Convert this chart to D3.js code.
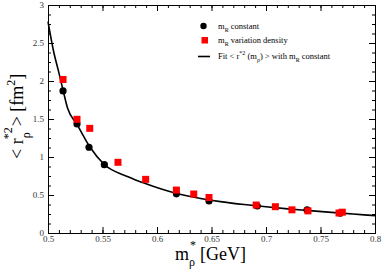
<!DOCTYPE html>
<html>
<head>
<meta charset="utf-8">
<script src="https://cdn.jsdelivr.net/npm/d3@7"></script>
<style>
body { margin: 0; background: #fff; }
text { font-family: "Liberation Serif", "DejaVu Serif", serif; }
.axis path { stroke: #000; }
.axis line { stroke: #000; }
</style>
</head>
<body>
<svg id="chart" width="382" height="277"></svg>
<script>
// m_R constant (black circles)
var massConst = [0.5138, 0.5266, 0.5376, 0.5517, 0.6178, 0.6477, 0.692, 0.7377, 0.768];
var rConst = [1.87, 1.434, 1.128, 0.899, 0.515, 0.421, 0.355, 0.303, 0.262];

// m_R variation density (red squares)
var massVar = [0.5138, 0.5266, 0.5383, 0.5642, 0.5896, 0.6178, 0.6337, 0.6477, 0.691, 0.7086, 0.7238, 0.7385, 0.767, 0.770];
var rVar = [2.02, 1.496, 1.377, 0.93, 0.706, 0.565, 0.513, 0.467, 0.368, 0.346, 0.305, 0.291, 0.263, 0.274];

// fit curve
var fitMass = [0.5, 0.5052, 0.5098, 0.5138, 0.518, 0.5266, 0.5383, 0.5514, 0.5734, 0.5887, 0.604, 0.618, 0.64, 0.66, 0.68, 0.7, 0.72, 0.74, 0.76, 0.78, 0.8];
var fitR = [2.78, 2.385, 2.12, 1.88, 1.64, 1.43, 1.135, 0.904, 0.741, 0.654, 0.578, 0.52, 0.455, 0.41, 0.375, 0.345, 0.318, 0.295, 0.272, 0.25, 0.228];

var xTicks = [0.5, 0.55, 0.6, 0.65, 0.7, 0.75, 0.8];
var yTicks = [0, 0.5, 1, 1.5, 2, 2.5, 3];

var svg = d3.select("#chart"),
    margin = {top: 5, right: 7, bottom: 44, left: 48},
    width = +svg.attr("width") - margin.left - margin.right,
    height = +svg.attr("height") - margin.top - margin.bottom;

var x = d3.scaleLinear().domain([0.5, 0.8]).range([0, width]);
var y = d3.scaleLinear().domain([0, 3]).range([height, 0]);

var g = svg.append("g")
    .attr("transform", "translate(" + margin.left + "," + margin.top + ")");

var xMinor = d3.range(50, 81).map(function(d) { return d / 100; });
var yMinor = d3.range(0, 25).map(function(d) { return d * 0.125; });

function fmt(d) { return String(+d.toFixed(2)); }

// minor ticks on all sides
g.append("g").attr("class", "axis").attr("transform", "translate(0," + height + ")")
    .call(d3.axisBottom(x).tickValues(xMinor).tickSize(-3).tickFormat(""));
g.append("g").attr("class", "axis")
    .call(d3.axisTop(x).tickValues(xMinor).tickSize(-3).tickFormat(""));
g.append("g").attr("class", "axis")
    .call(d3.axisLeft(y).tickValues(yMinor).tickSize(-3).tickFormat(""));
g.append("g").attr("class", "axis").attr("transform", "translate(" + width + ",0)")
    .call(d3.axisRight(y).tickValues(yMinor).tickSize(-3).tickFormat(""));

// major ticks
var xAxis = g.append("g").attr("class", "axis").attr("transform", "translate(0," + height + ")")
    .call(d3.axisBottom(x).tickValues(xTicks).tickSize(-6).tickPadding(3).tickFormat(fmt));
g.append("g").attr("class", "axis")
    .call(d3.axisTop(x).tickValues(xTicks).tickSize(-6).tickFormat(""));
var yAxis = g.append("g").attr("class", "axis")
    .call(d3.axisLeft(y).tickValues(yTicks).tickSize(-6).tickPadding(4).tickFormat(fmt));
g.append("g").attr("class", "axis").attr("transform", "translate(" + width + ",0)")
    .call(d3.axisRight(y).tickValues(yTicks).tickSize(-6).tickFormat(""));

xAxis.selectAll("text").attr("font-family", "Liberation Serif").attr("font-size", 9).attr("fill", "#333");
yAxis.selectAll("text").attr("font-family", "Liberation Serif").attr("font-size", 9).attr("fill", "#333");

// fit line
var line = d3.line()
    .x(function(d) { return x(d[0]); })
    .y(function(d) { return y(d[1]); })
    .curve(d3.curveMonotoneX);

g.append("path")
    .datum(d3.zip(fitMass, fitR))
    .attr("fill", "none")
    .attr("stroke", "#000")
    .attr("stroke-width", 1.6)
    .attr("d", line);

g.selectAll(".dot")
    .data(d3.zip(massConst, rConst))
    .enter().append("circle")
    .attr("cx", function(d) { return x(d[0]); })
    .attr("cy", function(d) { return y(d[1]); })
    .attr("r", 3.6)
    .attr("fill", "#000");

g.selectAll(".sq")
    .data(d3.zip(massVar, rVar))
    .enter().append("rect")
    .attr("x", function(d) { return x(d[0]) - 3.5; })
    .attr("y", function(d) { return y(d[1]) - 3.5; })
    .attr("width", 7)
    .attr("height", 7)
    .attr("fill", "#ff0000");

// legend
var leg = svg.append("g").attr("font-size", 8.5).attr("fill", "#000");
leg.append("circle").attr("cx", 203.5).attr("cy", 26).attr("r", 3.2).attr("fill", "#000");
var t1 = leg.append("text").attr("x", 218).attr("y", 29);
t1.append("tspan").text("m");
t1.append("tspan").attr("font-size", 6).attr("dy", 2.5).text("R");
t1.append("tspan").attr("dy", -2.5).text(" constant");

leg.append("rect").attr("x", 201.5).attr("y", 37).attr("width", 6.5).attr("height", 6.5).attr("fill", "#ff0000");
var t2 = leg.append("text").attr("x", 218).attr("y", 43);
t2.append("tspan").text("m");
t2.append("tspan").attr("font-size", 6).attr("dy", 2.5).text("R");
t2.append("tspan").attr("dy", -2.5).text("  variation density");

leg.append("line").attr("x1", 198).attr("x2", 210).attr("y1", 56.5).attr("y2", 56.5)
    .attr("stroke", "#000").attr("stroke-width", 1.6);
var t3 = leg.append("text").attr("x", 218).attr("y", 59);
t3.append("tspan").text("Fit < r");
t3.append("tspan").attr("font-size", 6).attr("dy", -4).text("*2");
t3.append("tspan").attr("dy", 4).text(" (m");
t3.append("tspan").attr("font-size", 6).attr("dy", 2.5).text("ρ");
t3.append("tspan").attr("dy", -2.5).text(") > with m");
t3.append("tspan").attr("font-size", 6).attr("dy", 2.5).text("R");
t3.append("tspan").attr("dy", -2.5).text(" constant");

// x label (star as its own text so it sits just below the tick labels)
var xl = svg.append("text").attr("x", 175).attr("y", 260).attr("font-size", 18);
xl.append("tspan").text("m");
xl.append("tspan").attr("font-size", 12).attr("dy", 6).text("ρ");
xl.append("tspan").attr("dx", 5).attr("dy", -6).text("[GeV]");
svg.append("text").attr("x", 190).attr("y", 249).attr("font-size", 12).text("*");

// y label
var yl = svg.append("text")
    .attr("transform", "translate(23,159) rotate(-90)")
    .attr("font-size", 18);
yl.append("tspan").text("< r");
yl.append("tspan").attr("font-size", 12).attr("dy", 7).text("ρ");
yl.append("tspan").attr("font-size", 12).attr("dx", -7).attr("dy", -18).text("*2");
yl.append("tspan").attr("dx", 1).attr("dy", 11).text("> [fm");
yl.append("tspan").attr("font-size", 12).attr("dy", -8).text("2");
yl.append("tspan").attr("dy", 8).text("]");
</script>
</body>
</html>
